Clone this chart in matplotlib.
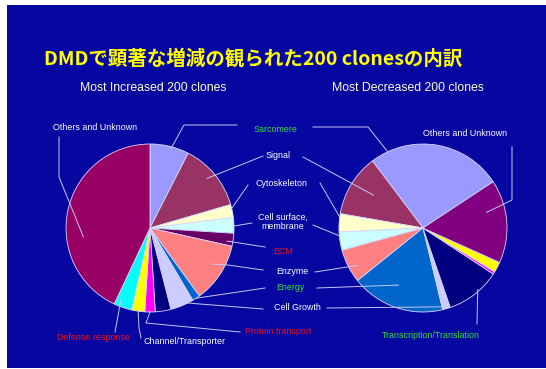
import matplotlib
matplotlib.use("Agg")
import matplotlib.pyplot as plt
import numpy as np
from matplotlib.patches import Rectangle

W, H = 546, 369

# clone counts per functional category (out of 200 clones each)
categories = [
    "Sarcomere", "Signal", "Cytoskeleton", "Cell surface,\nmembrane", "ECM",
    "Enzyme", "Energy", "Cell Growth", "Transcription/Translation",
    "Protein transport", "Channel/Transporter", "Defense response",
    "Others and Unknown",
]
increased = [15, 26, 5, 6, 5, 23, 3, 9, 6, 4, 5, 7, 86]
decreased = [52, 24, 7, 7, 0, 13, 36, 3, 21, 1, 4, 0, 32]

colors_inc = ["#9999FF", "#993366", "#FFFFCC", "#CCFFFF", "#660066", "#FF8080",
              "#0066CC", "#CCCCFF", "#000080", "#FF00FF", "#FFFF00", "#00FFFF",
              "#990066"]
colors_dec = colors_inc[:-1] + ["#800080"]

BG = "#0606A0"
WHITE = "#FFFFFF"
GREEN = "#33DD33"
RED = "#EE1111"
LINE = "#C8C8F0"

fig = plt.figure(figsize=(W / 100, H / 100), dpi=100, facecolor="white")
ax = fig.add_axes([0, 0, 1, 1])


def py(y):
    # layout below is written top-down in pixels
    return H - y


ax.add_patch(Rectangle((7, py(368)), W - 7, 363, facecolor=BG, edgecolor="none", zorder=0))

pies = [
    # values, colors, center, start angle, counterclock
    (increased, colors_inc, (150, 228), 90.0, False),
    (decreased, colors_dec, (423, 228), 33.4, True),
]
R = 84


def draw_pie(values, colors, center, start, ccw):
    vals = np.array(values, dtype=float)
    keep = vals > 0
    ax.pie(vals[keep], colors=[c for c, k in zip(colors, keep) if k],
           center=(center[0], py(center[1])), radius=R, startangle=start,
           counterclock=ccw,
           wedgeprops=dict(edgecolor="#D8D8FF", linewidth=0.6))
    # angular extent of each category (degrees), zero-size ones included
    sign = 1 if ccw else -1
    edges = start + sign * 360 * np.concatenate([[0], np.cumsum(vals)]) / vals.sum()
    return list(zip(edges[:-1], edges[1:]))


spans = [draw_pie(*p) for p in pies]

# leader lines: category, pie, label-side points, fraction along wedge, radius fraction
leaders = [
    (12, 0, [(59, 137), (59, 177)], 0.37, 0.8),
    (0, 0, [(237, 125), (184, 125)], 0.55, 0.98),
    (1, 0, [(263, 156)], 0.47, 0.9),
    (2, 0, [(248, 185)], 0.3, 1.0),
    (3, 0, [(252, 223)], 0.55, 0.99),
    (4, 0, [(265, 247)], 0.67, 0.93),
    (5, 0, [(263, 270), (228, 265)], 0.42, 0.86),
    (6, 0, [(265, 288)], 0.5, 1.0),
    (7, 0, [(263, 309)], 0.24, 1.0),
    (9, 0, [(240, 332), (146, 323)], 0.5, 1.0),
    (10, 0, [(141, 338), (139, 328)], 0.5, 1.0),
    (11, 0, [(115, 332)], 0.75, 0.92),
    (0, 1, [(313, 127), (368, 127)], 0.87, 1.0),
    (1, 1, [(303, 157)], 0.45, 0.71),
    (2, 1, [(320, 183)], 0.18, 1.0),
    (3, 1, [(313, 225)], 0.2, 1.0),
    (5, 1, [(315, 272)], 0.61, 0.9),
    (6, 1, [(317, 288)], 0.43, 0.74),
    (7, 1, [(327, 308)], 0.2, 0.97),
    (8, 1, [(477, 324)], 0.6, 0.98),
    (12, 1, [(512, 147), (512, 200)], 0.66, 0.78),
]

for cat, p, pts, frac, rf in leaders:
    a0, a1 = spans[p][cat]
    ang = np.radians(a0 + frac * (a1 - a0))
    cx, cy = pies[p][2]
    end = (cx + rf * R * np.cos(ang), py(cy) + rf * R * np.sin(ang))
    xs = [x for x, _ in pts] + [end[0]]
    ys = [py(y) for _, y in pts] + [end[1]]
    ax.plot(xs, ys, color=LINE, lw=0.7, zorder=3)

# category labels: category, x, y, colour
labels = [
    (0, 275, 129, GREEN), (1, 278, 156, WHITE), (2, 282, 183, WHITE),
    (3, 283, 222, WHITE), (4, 283, 252, RED), (5, 292, 271, WHITE),
    (6, 290, 288, GREEN), (7, 297, 307, WHITE), (9, 278, 332, RED),
    (10, 185, 342, WHITE), (11, 93, 338, RED), (12, 95, 127, WHITE),
    (12, 465, 133, WHITE), (8, 431, 335, GREEN),
]
for cat, x, y, col in labels:
    ax.text(x, py(y), categories[cat], color=col, fontsize=6.4,
            family="Liberation Sans", ha="center", va="center",
            linespacing=1.1, zorder=4)

ax.text(253, py(59), "DMDで顕著な増減の観られた200 clonesの内訳", color="#FFFF00",
        fontsize=14, fontweight="bold", family=["Noto Sans CJK JP", "DejaVu Sans"],
        ha="center", va="center")
ax.text(153, py(88), "Most Increased 200 clones", color="#FFFFCC", fontsize=8.8,
        family="Liberation Sans", ha="center", va="center")
ax.text(408, py(88), "Most Decreased 200 clones", color="#FFFFCC", fontsize=8.8,
        family="Liberation Sans", ha="center", va="center")

ax.set_xlim(0, W)
ax.set_ylim(0, H)
ax.set_aspect("auto")
ax.axis("off")

fig.savefig("out.png", dpi=100, facecolor="white")
